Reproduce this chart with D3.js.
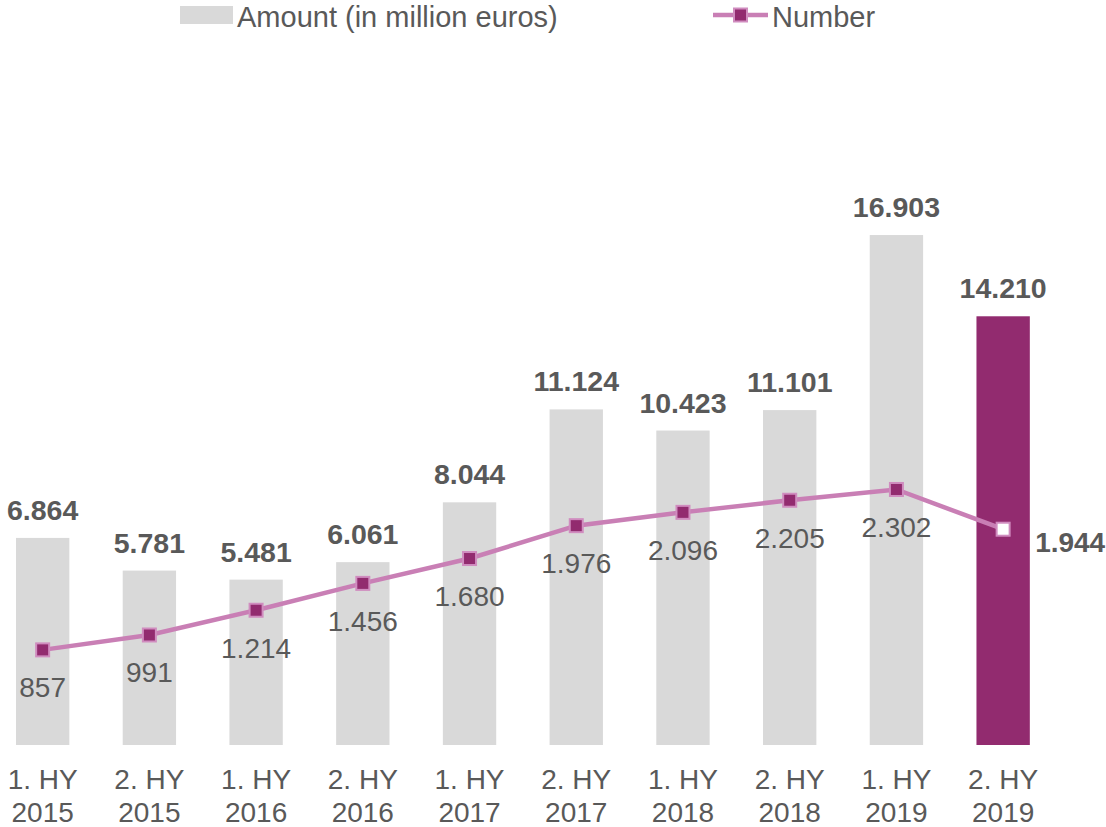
<!DOCTYPE html>
<html>
<head>
<meta charset="utf-8">
<script src="https://cdn.jsdelivr.net/npm/d3@7"></script>
<style>
  body { margin: 0; background: #fff; }
  svg { display: block; font-family: "Liberation Sans", Arial, sans-serif; }
</style>
</head>
<body>
<div id="chart"></div>
<script>
var categories = ['1. HY 2015', '2. HY 2015', '1. HY 2016', '2. HY 2016', '1. HY 2017',
  '2. HY 2017', '1. HY 2018', '2. HY 2018', '1. HY 2019', '2. HY 2019']
var amounts = [6864, 5781, 5481, 6061, 8044, 11124, 10423, 11101, 16903, 14210]
var numbers = [857, 991, 1214, 1456, 1680, 1976, 2096, 2205, 2302, 1944]

var width = 1106, height = 827
var textColor = '#595959'
var fmt = function (v) { return d3.format(',')(v).replace(/,/g, '.') }

var svg = d3.select('#chart').append('svg')
  .attr('width', width)
  .attr('height', height)

var x = d3.scaleBand()
  .domain(categories)
  .range([-10.7, 1056.5])
  .paddingInner(0.5)
  .paddingOuter(0.25)

var yBar = d3.scaleLinear().domain([0, 20000]).range([745, 745 - 20000 * 0.03017])
var yLine = d3.scaleLinear().domain([0, 2500]).range([745, 745 - 2500 * 0.1110])

// bars
svg.selectAll('rect.bar')
  .data(amounts)
  .enter().append('rect')
  .attr('class', 'bar')
  .attr('x', function (d, i) { return x(categories[i]) })
  .attr('width', x.bandwidth())
  .attr('y', function (d) { return yBar(d) })
  .attr('height', function (d) { return yBar(0) - yBar(d) })
  .attr('fill', function (d, i) { return i === amounts.length - 1 ? '#922B6F' : '#D9D9D9' })

svg.selectAll('text.barLabel')
  .data(amounts)
  .enter().append('text')
  .attr('class', 'barLabel')
  .attr('x', function (d, i) { return x(categories[i]) + x.bandwidth() / 2 })
  .attr('y', function (d) { return yBar(d) - 18 })
  .attr('text-anchor', 'middle')
  .attr('font-size', 28.5)
  .attr('font-weight', 'bold')
  .attr('fill', textColor)
  .text(fmt)

// line
var cx = function (d, i) { return x(categories[i]) + x.bandwidth() / 2 }
var line = d3.line()
  .x(cx)
  .y(function (d) { return yLine(d) })

svg.append('path')
  .datum(numbers)
  .attr('d', line)
  .attr('fill', 'none')
  .attr('stroke', '#C97FB5')
  .attr('stroke-width', 4.5)

svg.selectAll('rect.marker')
  .data(numbers)
  .enter().append('rect')
  .attr('class', 'marker')
  .attr('x', function (d, i) { return cx(d, i) - 6.5 })
  .attr('y', function (d) { return yLine(d) - 6.5 })
  .attr('width', 13)
  .attr('height', 13)
  .attr('fill', function (d, i) { return i === numbers.length - 1 ? '#FFFFFF' : '#922B6F' })
  .attr('stroke', '#D08CBF')
  .attr('stroke-width', 2)

svg.selectAll('text.lineLabel')
  .data(numbers)
  .enter().append('text')
  .attr('class', 'lineLabel')
  .attr('x', function (d, i) { return i === numbers.length - 1 ? cx(d, i) + 32 : cx(d, i) })
  .attr('y', function (d, i) { return i === numbers.length - 1 ? yLine(d) + 23 : yLine(d) + 47.5 })
  .attr('text-anchor', function (d, i) { return i === numbers.length - 1 ? 'start' : 'middle' })
  .attr('font-size', 28)
  .attr('font-weight', function (d, i) { return i === numbers.length - 1 ? 'bold' : 'normal' })
  .attr('fill', textColor)
  .text(fmt)

// x axis labels
var xLabels = svg.selectAll('text.xLabel')
  .data(categories)
  .enter().append('text')
  .attr('class', 'xLabel')
  .attr('text-anchor', 'middle')
  .attr('font-size', 28)
  .attr('fill', textColor)
xLabels.append('tspan')
  .attr('x', function (d) { return x(d) + x.bandwidth() / 2 })
  .attr('y', 789)
  .text(function (d) { return d.slice(0, 5) })
xLabels.append('tspan')
  .attr('x', function (d) { return x(d) + x.bandwidth() / 2 })
  .attr('y', 822)
  .text(function (d) { return d.slice(6) })

// legend
var legend = svg.append('g')
legend.append('rect')
  .attr('x', 180).attr('y', 6).attr('width', 53).attr('height', 18)
  .attr('fill', '#D9D9D9')
legend.append('text')
  .attr('x', 237).attr('y', 26.5)
  .attr('font-size', 29)
  .attr('fill', textColor)
  .text('Amount (in million euros)')
legend.append('line')
  .attr('x1', 713).attr('x2', 768).attr('y1', 15).attr('y2', 15)
  .attr('stroke', '#C97FB5').attr('stroke-width', 4.5)
legend.append('rect')
  .attr('x', 734).attr('y', 8.5).attr('width', 13).attr('height', 13)
  .attr('fill', '#922B6F').attr('stroke', '#D08CBF').attr('stroke-width', 2)
legend.append('text')
  .attr('x', 772).attr('y', 26.5)
  .attr('font-size', 29)
  .attr('fill', textColor)
  .text('Number')
</script>
</body>
</html>
